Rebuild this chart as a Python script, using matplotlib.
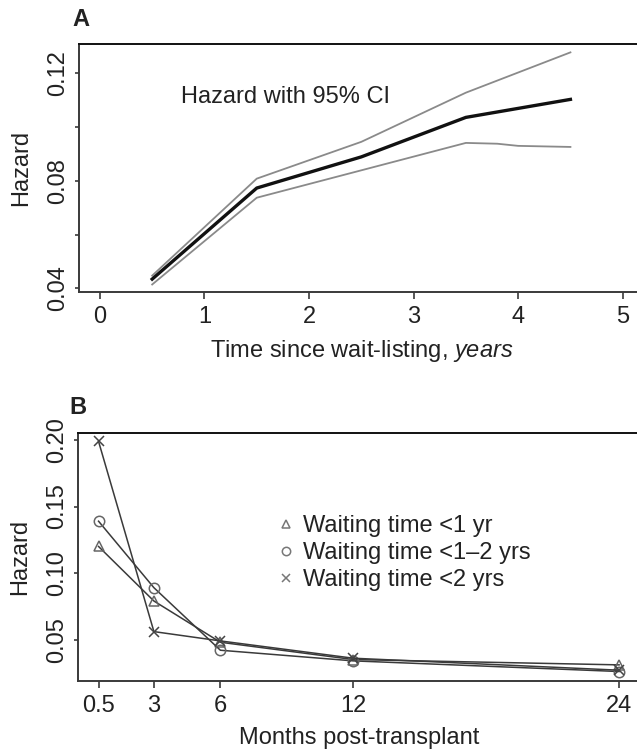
import matplotlib
matplotlib.use("Agg")
import matplotlib.pyplot as plt

plt.rcParams['font.family'] = ['Liberation Sans', 'DejaVu Sans']
plt.rcParams['mathtext.fontset'] = 'custom'
plt.rcParams['mathtext.rm'] = 'Liberation Sans'
plt.rcParams['mathtext.it'] = 'Liberation Sans:italic'

# Panel A: hazard vs time since wait-listing (years)
years = [0.5, 1.5, 2.5, 3.5, 4.5]
hazard_mid = [0.0434, 0.0773, 0.0889, 0.1036, 0.1103]
hazard_upper = [0.0447, 0.0808, 0.0945, 0.1128, 0.1278]
years_lower = [0.5, 1.5, 2.5, 3.5, 3.8, 4.0, 4.5]
hazard_lower = [0.0414, 0.0737, 0.0839, 0.0941, 0.0938, 0.0930, 0.0926]

# Panel B: hazard vs months post-transplant, by waiting time
months = [0.5, 3, 6, 12, 24]
wait_lt1 = [0.120, 0.079, 0.048, 0.035, 0.031]
wait_1to2 = [0.139, 0.089, 0.042, 0.034, 0.026]
wait_gt2 = [0.199, 0.056, 0.049, 0.036, 0.027]
series_labels = ['Waiting time <1 yr', 'Waiting time <1\u20132 yrs', 'Waiting time <2 yrs']

FS = 17
TXT = '#222222'
SPINE = '#3a3a3a'

fig = plt.figure(figsize=(6.37, 7.51), dpi=100)


def style_axes(ax):
    for s in ax.spines.values():
        s.set_color(SPINE)
        s.set_linewidth(1.4)
    ax.spines['top'].set_color('#111111')
    ax.tick_params(axis='x', direction='out', length=5, width=1.2, color=SPINE,
                   labelsize=FS, labelcolor=TXT, pad=5)
    ax.tick_params(axis='y', direction='out', length=3, width=1.2, color=SPINE,
                   labelsize=FS, labelcolor=TXT, pad=4)
    for lab in ax.get_yticklabels():
        lab.set_rotation(90)
        lab.set_va('center')


# ---- Panel A ----
axA = fig.add_axes([0.124, 0.6108, 0.8864, 0.3302])
axA.plot(years, hazard_upper, color='#8a8a8a', lw=1.3)
axA.plot(years_lower, hazard_lower, color='#8a8a8a', lw=1.3)
axA.plot(years, hazard_mid, color='#111111', lw=2.4)
axA.set_xlim(-0.2, 5.2)
axA.set_ylim(0.0385, 0.1308)
axA.set_xticks([0, 1, 2, 3, 4, 5])
axA.set_yticks([0.04, 0.06, 0.08, 0.10, 0.12])
axA.set_yticklabels(['0.04', '', '0.08', '', '0.12'])
style_axes(axA)
axA.text(0.775, 0.1113, 'Hazard with 95% CI', fontsize=FS, color=TXT, va='center')
axA.set_xlabel(r'Time since wait-listing, $\mathit{years}$', fontsize=FS, color=TXT, labelpad=7)
axA.set_ylabel('Hazard', fontsize=FS, color=TXT, labelpad=11)
fig.text(81 / 637, 1 - 20 / 751, 'A', fontsize=FS, fontweight='bold', color=TXT,
         ha='center', va='center')

# ---- Panel B ----
axB = fig.add_axes([0.122, 0.0929, 0.8826, 0.3309])
line_col = '#3a3a3a'
axB.plot(months, wait_lt1, color=line_col, lw=1.1, marker='^', ms=7.5, mfc='none',
         mec='#666666', mew=1.1, label=series_labels[0])
axB.plot(months, wait_1to2, color=line_col, lw=1.1, marker='o', ms=7.5, mfc='none',
         mec='#666666', mew=1.1, label=series_labels[1])
axB.plot(months, wait_gt2, color=line_col, lw=1.1, marker='x', ms=7.5,
         mec='#444444', mew=1.1, label=series_labels[2])
axB.set_xlim(-0.44, 24.94)
axB.set_ylim(0.0187, 0.2055)
axB.set_xticks(months)
axB.set_xticklabels(['0.5', '3', '6', '12', '24'])
axB.set_yticks([0.05, 0.10, 0.15, 0.20])
axB.set_yticklabels(['0.05', '0.10', '0.15', '0.20'])
style_axes(axB)
handles, labels = axB.get_legend_handles_labels()
leg = axB.legend(handles, labels, loc='upper left', bbox_to_anchor=(0.344, 0.707),
                 frameon=False, fontsize=FS, handlelength=0.5, handletextpad=0.45,
                 labelspacing=0.22, borderaxespad=0, labelcolor=TXT)
for lh in leg.get_lines():
    lh.set_linestyle('none')
    lh.set_markersize(6)
    lh.set_markeredgecolor('#777777')
axB.set_xlabel('Months post-transplant', fontsize=FS, color=TXT, labelpad=7)
axB.set_ylabel('Hazard', fontsize=FS, color=TXT, labelpad=11)
fig.text(78 / 637, 1 - 408 / 751, 'B', fontsize=FS, fontweight='bold', color=TXT,
         ha='center', va='center')

fig.savefig('out.png', dpi=100)
